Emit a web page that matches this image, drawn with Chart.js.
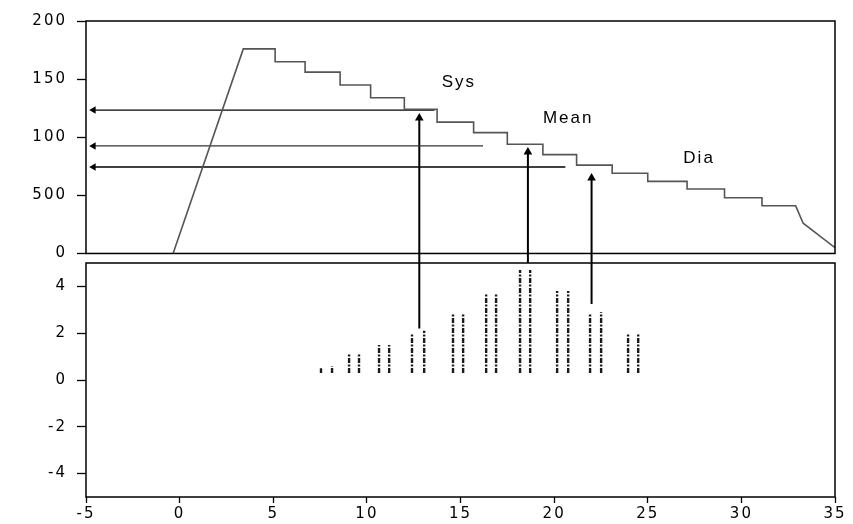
<!DOCTYPE html>
<html>
<head>
<meta charset="utf-8">
<script src="https://cdn.jsdelivr.net/npm/chart.js@4.4.1/dist/chart.umd.min.js"></script>
<style>
    html, body { margin: 0; padding: 0; background: #fff; }
    #wrap { width: 853px; height: 524px; position: relative; }
</style>
</head>
<body>
<div id="wrap"><canvas id="bpChart"></canvas></div>
<script>
// cuff pressure trace (top panel)
const cuffX = [-0.35, 3.4, 5.1, 5.1, 6.7, 6.7, 8.57, 8.57, 10.2, 10.2, 12.0, 12.0, 13.75, 13.75, 15.7, 15.7, 17.5, 17.5, 19.4, 19.4, 21.2, 21.2, 23.1, 23.1, 25.0, 25.0, 27.1, 27.1, 29.1, 29.1, 31.1, 31.1, 32.9, 33.3, 35.0];
const cuffY = [0, 176, 176, 165, 165, 156, 156, 145, 145, 134, 134, 124, 124, 113, 113, 104, 104, 94, 94, 85, 85, 76, 76, 69, 69, 62, 62, 55.5, 55.5, 48, 48, 41, 41, 26, 5];

// horizontal arrows: Sys, Mean, Dia
const levelNames = ['Sys', 'Mean', 'Dia'];
const levelValues = [123.4, 92.5, 74.4];
const levelStartX = [-4.6, -4.6, -4.6];
const levelEndX = [13.6, 16.2, 20.6];

// vertical arrows (from pulse panel up to the cuff curve)
const markX = [12.8, 18.6, 22.0];
const markFromPulse = [2.2, 5, 3.25];
const markTipCuff = [116.5, 87.3, 65];

// label positions
const labelX = [14.0, 19.4, 26.9];
const labelY = [147, 116.5, 82];

// oscillation pulses (bottom panel)
const pulseX = [7.55, 8.14, 9.05, 9.58, 10.65, 11.19, 12.41, 13.06, 14.6, 15.14, 16.37, 16.9, 18.18, 18.72, 20.16, 20.75, 21.92, 22.51, 23.95, 24.49];
const pulseTop = [0.5, 0.6, 1.1, 1.1, 1.5, 1.5, 2.0, 2.1, 2.8, 2.8, 3.7, 3.7, 4.7, 4.7, 3.8, 3.8, 2.8, 2.9, 2.0, 2.0];
const pulseBase = 0.3;

// ticks
const xTicks = [-5, 0, 5, 10, 15, 20, 25, 30, 35];
const topTicks = [0, 50, 100, 150, 200];
const topTickLabels = ['0', '500', '100', '150', '200'];
const bottomTicks = [-4, -2, 0, 2, 4];

const tickFont = { family: 'DejaVu Sans', size: 15 };

function buildDatasets() {
    const sets = [];

    sets.push({
        data: cuffX.map((x, i) => ({ x: x, y: cuffY[i] })),
        yAxisID: 'y',
        borderColor: '#555',
        borderWidth: 1.6,
        pointRadius: 0
    });

    levelValues.forEach((v, i) => {
        sets.push({
            data: [{ x: levelStartX[i], y: v }, { x: levelEndX[i], y: v }],
            yAxisID: 'y',
            borderColor: i === 1 ? '#333' : '#000',
            borderWidth: 1.3,
            pointStyle: 'triangle',
            pointRotation: 270,
            pointRadius: [3, 0],
            pointBackgroundColor: '#000',
            pointBorderColor: '#000'
        });
    });

    markX.forEach((x, i) => {
        // lower part, inside the pulse panel
        if (markFromPulse[i] < 5) {
            sets.push({
                data: [{ x: x, y: markFromPulse[i] }, { x: x, y: 5 }],
                yAxisID: 'y2',
                borderColor: '#000',
                borderWidth: 2,
                pointRadius: 0
            });
        }
        // upper part, up to the arrow tip
        sets.push({
            data: [{ x: x, y: -8.2 }, { x: x, y: markTipCuff[i] }],
            yAxisID: 'y',
            borderColor: '#000',
            borderWidth: 2,
            pointStyle: 'triangle',
            pointRotation: 0,
            pointRadius: [0, 3],
            pointBackgroundColor: '#000',
            pointBorderColor: '#000'
        });
    });

    // pulses drawn as broken vertical strokes, split by null gaps
    const pulseData = [];
    pulseX.forEach((x, i) => {
        pulseData.push({ x: x, y: pulseBase });
        pulseData.push({ x: x, y: pulseTop[i] });
        pulseData.push({ x: x, y: null });
    });
    sets.push({
        data: pulseData,
        yAxisID: 'y2',
        borderColor: '#1a1a1a',
        borderWidth: 2.4,
        borderDash: [5, 1.5, 2, 1.5],
        pointRadius: 0,
        spanGaps: false
    });

    return sets;
}

// panel frames and the Sys / Mean / Dia labels
const framePlugin = {
    id: 'frames',
    beforeUpdate(chart) { chart.ctx.letterSpacing = '2px'; },
    beforeDraw(chart) { chart.ctx.letterSpacing = '2px'; },
    afterDraw(chart) {
        const ctx = chart.ctx;
        const xs = chart.scales.x, ys = chart.scales.y, y2 = chart.scales.y2;
        const l = xs.getPixelForValue(-5), r = xs.getPixelForValue(35);
        ctx.save();
        ctx.strokeStyle = '#000';
        ctx.lineWidth = 1.5;
        const t1 = ys.getPixelForValue(200), b1 = ys.getPixelForValue(0);
        ctx.strokeRect(l, t1, r - l, b1 - t1);
        const t2 = y2.getPixelForValue(5), b2 = y2.getPixelForValue(-5);
        ctx.strokeRect(l, t2, r - l, b2 - t2);

        ctx.fillStyle = '#000';
        ctx.font = '17px "Liberation Sans"';
        ctx.letterSpacing = '2px';
        ctx.textAlign = 'left';
        ctx.textBaseline = 'middle';
        levelNames.forEach((name, i) => {
            ctx.fillText(name, xs.getPixelForValue(labelX[i]), ys.getPixelForValue(labelY[i]));
        });
        ctx.restore();
    }
};

document.addEventListener('DOMContentLoaded', () => {
    const ctx = document.getElementById('bpChart').getContext('2d');

    new Chart(ctx, {
        type: 'scatter',
        data: { datasets: buildDatasets() },
        options: {
            responsive: true,
            maintainAspectRatio: false,
            animation: false,
            showLine: true,
            layout: { padding: { left: 0, right: 18, top: 21, bottom: 0 } },
            plugins: {
                legend: { display: false },
                tooltip: { enabled: false }
            },
            scales: {
                x: {
                    type: 'linear',
                    min: -5,
                    max: 35,
                    afterBuildTicks: s => { s.ticks = xTicks.map(v => ({ value: v })); },
                    afterFit: s => { s.height = 27; },
                    ticks: { color: '#000', font: tickFont, padding: 2, maxRotation: 0 },
                    grid: { drawOnChartArea: false, drawTicks: true, tickLength: 6, color: '#000', tickWidth: 1.3 },
                    border: { display: false }
                },
                y: {
                    type: 'linear',
                    position: 'left',
                    stack: 'panels',
                    stackWeight: 242,
                    weight: 1,
                    min: -8.2,
                    max: 200,
                    afterBuildTicks: s => { s.ticks = topTicks.map(v => ({ value: v })); },
                    afterFit: s => { s.width = 86; },
                    ticks: {
                        color: '#000',
                        font: tickFont,
                        padding: 10,
                        callback: v => topTickLabels[topTicks.indexOf(v)]
                    },
                    grid: { drawOnChartArea: false, drawTicks: true, tickLength: 9, color: '#000', tickWidth: 1.3 },
                    border: { display: false }
                },
                y2: {
                    type: 'linear',
                    position: 'left',
                    stack: 'panels',
                    stackWeight: 234,
                    weight: 0,
                    min: -5,
                    max: 5,
                    afterBuildTicks: s => { s.ticks = bottomTicks.map(v => ({ value: v })); },
                    afterFit: s => { s.width = 86; },
                    ticks: { color: '#000', font: tickFont, padding: 10 },
                    grid: { drawOnChartArea: false, drawTicks: true, tickLength: 9, color: '#000', tickWidth: 1.3 },
                    border: { display: false }
                }
            }
        },
        plugins: [framePlugin]
    });
});
</script>
</body>
</html>
